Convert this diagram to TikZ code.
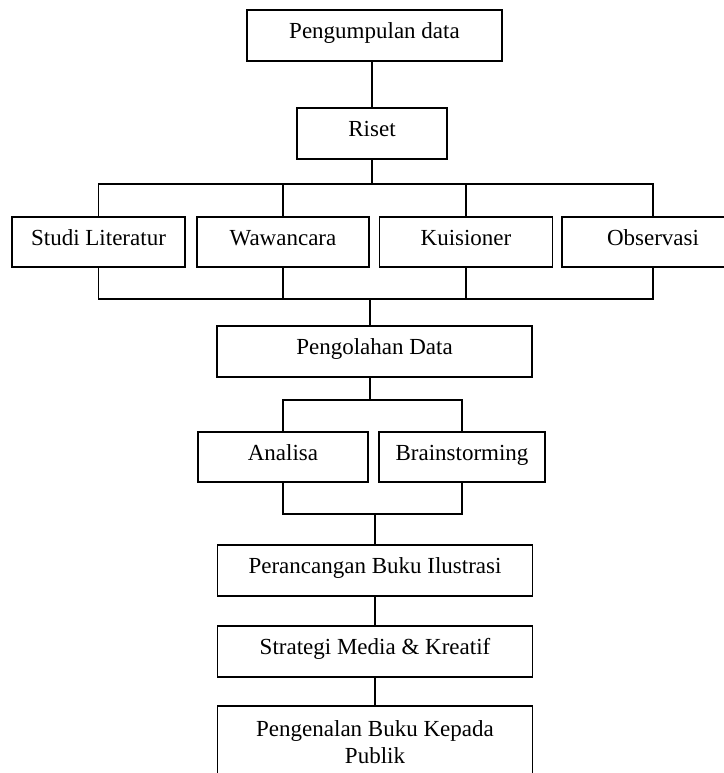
\documentclass[tikz,border=0pt]{standalone}
\usepackage{fontspec}
\setmainfont{Liberation Serif}

\begin{document}
\begin{tikzpicture}[x=1pt, y=-1pt, line width=1.1pt,
    box/.style={draw, rectangle, minimum height=51pt, inner sep=0pt,
        font=\fontsize{23}{27}\selectfont},
    onerow/.style={box, text height=13pt, text depth=7pt}]
    \useasboundingbox (0,0) rectangle (723,773);

    % Data collection
    \node[onerow, minimum width=255pt] (pengumpulan) at (374.5,35.5) {Pengumpulan data};
    \node[onerow, minimum width=150pt] (riset) at (372,133.5) {Riset};

    % Research methods
    \node[onerow, minimum width=173pt, minimum height=50pt] (studi) at (98.5,242) {Studi Literatur};
    \node[onerow, minimum width=172pt, minimum height=50pt] (wawancara) at (283,242) {Wawancara};
    \node[onerow, minimum width=173pt, minimum height=50pt] (kuisioner) at (466,242) {Kuisioner};
    \node[onerow, minimum width=182pt, minimum height=50pt] (observasi) at (653,242) {Observasi};

    % Processing
    \node[onerow, minimum width=315pt] (pengolahan) at (374.5,351.5) {Pengolahan Data};
    \node[onerow, minimum width=170pt, minimum height=50pt] (analisa) at (283,457) {Analisa};
    \node[onerow, minimum width=166pt, minimum height=50pt] (brainstorming) at (462,457) {Brainstorming};

    % Design
    \node[onerow, minimum width=315pt] (perancangan) at (375,570.5) {Perancangan Buku Ilustrasi};
    \node[onerow, minimum width=315pt] (strategi) at (375,651.5) {Strategi Media \& Kreatif};
    \node[box, minimum width=315pt, minimum height=72pt, align=center] (pengenalan) at (375,742)
        {Pengenalan Buku Kepada\\Publik};

    % Bus points
    \coordinate (bus1) at (372,184);
    \coordinate (bus2) at (370,299);
    \coordinate (bus3) at (370,400);
    \coordinate (bus4) at (375,514);

    % Connectors
    \draw (riset.north) -- (riset.north |- pengumpulan.south);
    \draw (riset.south) -- (bus1);
    \draw (studi.north) |- (bus1) -| (observasi.north);
    \draw (wawancara.north) -- (wawancara.north |- bus1);
    \draw (kuisioner.north) -- (kuisioner.north |- bus1);

    \draw (studi.south) |- (bus2) -| (observasi.south);
    \draw (wawancara.south) -- (wawancara.south |- bus2);
    \draw (kuisioner.south) -- (kuisioner.south |- bus2);
    \draw (bus2) -- (bus2 |- pengolahan.north);

    \draw (bus3 |- pengolahan.south) -- (bus3);
    \draw (analisa.north) |- (bus3) -| (brainstorming.north);
    \draw (analisa.south) |- (bus4) -| (brainstorming.south);
    \draw (bus4) -- (perancangan.north);
    \draw (perancangan.south) -- (strategi.north);
    \draw (strategi.south) -- (pengenalan.north);
\end{tikzpicture}
\end{document}
